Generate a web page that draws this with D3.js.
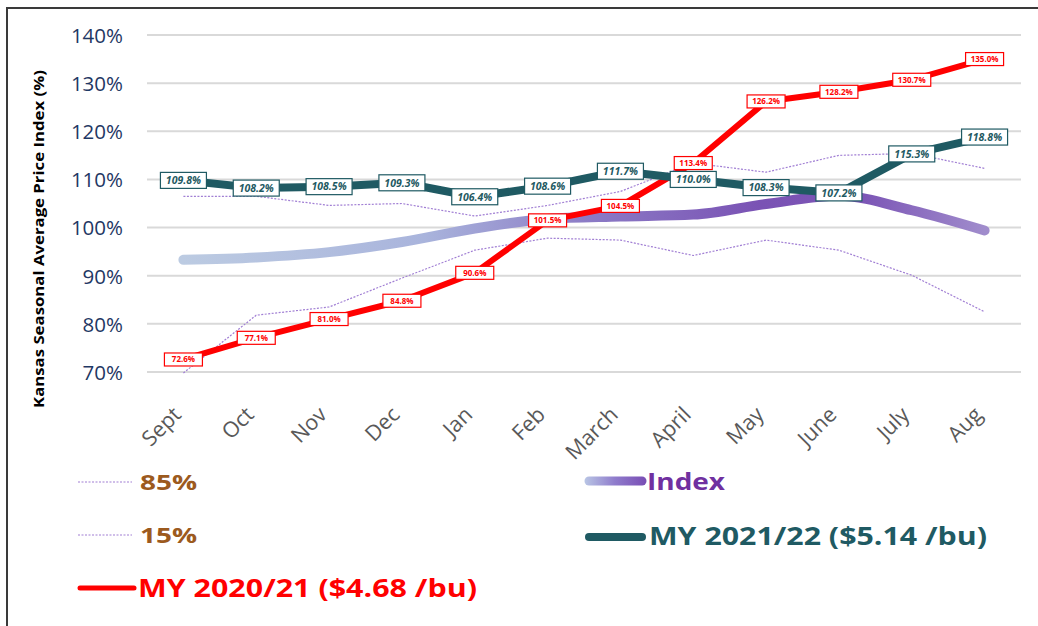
<!DOCTYPE html>
<html><head><meta charset="utf-8">
<script src="https://cdn.jsdelivr.net/npm/d3@7"></script>
<style>body{margin:0;background:#fff}svg{display:block}</style>
</head><body>
<svg id="chart" width="1038" height="626"></svg>
<script>
const months = ["Sept","Oct","Nov","Dec","Jan","Feb","March","April","May","June","July","Aug"];
const yTicks = [70,80,90,100,110,120,130,140];
const p85 = [106.5,106.5,104.6,105.0,102.4,104.6,107.5,113.4,111.5,115.0,115.4,112.3];
const p15 = [69.8,81.8,83.5,89.5,95.3,97.8,97.4,94.2,97.4,95.3,90.1,82.5];
const indexVals = [93.3,93.8,94.9,97.0,99.8,101.8,102.3,102.7,104.9,106.6,103.6,99.4];
const my2021 = [72.6,77.1,81.0,84.8,90.6,101.5,104.5,113.4,126.2,128.2,130.7,135.0];
const my2122 = [109.8,108.2,108.5,109.3,106.4,108.6,111.7,110.0,108.3,107.2,115.3,118.8];

const svg = d3.select("#chart");
const pLeft = 147, pRight = 1021, pTop = 35, pBottom = 372;
const x = d3.scaleBand().domain(months).range([pLeft, pRight]);
const cx = m => x(m) + x.bandwidth()/2;
const y = d3.scaleLinear().domain([70,140]).range([pBottom, pTop]);

// frame
svg.append("rect").attr("x",7).attr("y",8).attr("width",1040).attr("height",630)
  .attr("fill","none").attr("stroke","#3a3a3a").attr("stroke-width",2);

// gridlines
svg.append("g").selectAll("line").data(yTicks).join("line")
  .attr("x1",pLeft).attr("x2",pRight).attr("y1",d=>y(d)).attr("y2",d=>y(d))
  .attr("stroke","#d9d9d9").attr("stroke-width",2);

// y axis labels
const yAxis = d3.axisLeft(y).tickValues(yTicks).tickFormat(d=>d+"%").tickSize(0).tickPadding(0);
const ya = svg.append("g").attr("transform",`translate(123,0)`).call(yAxis);
ya.select(".domain").remove();
ya.selectAll("text").attr("font-family","'Open Sans', sans-serif").attr("font-size",20.5)
  .attr("fill","#1f3864").attr("dy","0.36em");

// x axis labels
const xAxis = d3.axisBottom(x).tickSize(0).tickPadding(0);
const xa = svg.append("g").attr("transform",`translate(0,${pBottom})`).call(xAxis);
xa.select(".domain").remove();
xa.selectAll("text")
  .attr("font-family","'Open Sans', sans-serif").attr("font-size",21.5).attr("fill","#595959")
  .attr("text-anchor","end").attr("dy",0).attr("y",0)
  .attr("transform","translate(-1,44) rotate(-45)");

// y title
svg.append("text").attr("transform","translate(44,239) rotate(-90)")
  .attr("text-anchor","middle").attr("font-family","'Open Sans', sans-serif")
  .attr("font-weight","bold").attr("font-size",14).attr("fill","#000")
  .attr("textLength",338).attr("lengthAdjust","spacingAndGlyphs")
  .text("Kansas Seasonal Average Price Index (%)");

// gradients
const defs = svg.append("defs");
const g1 = defs.append("linearGradient").attr("id","idxGrad").attr("gradientUnits","userSpaceOnUse")
  .attr("x1",cx("Sept")).attr("x2",cx("Aug")).attr("y1",0).attr("y2",0);
[[0,"#bccbe2"],[0.3,"#a9b4dc"],[0.5,"#8c7cc6"],[0.72,"#7a52b4"],[0.85,"#7c56b6"],[1,"#a08ccc"]]
  .forEach(([o,c])=>g1.append("stop").attr("offset",o).attr("stop-color",c));
const g2 = defs.append("linearGradient").attr("id","legGrad").attr("gradientUnits","userSpaceOnUse")
  .attr("x1",585).attr("x2",645).attr("y1",0).attr("y2",0);
[[0,"#b8c4e4"],[0.5,"#8f7ccc"],[1,"#7a4fb5"]]
  .forEach(([o,c])=>g2.append("stop").attr("offset",o).attr("stop-color",c));

const line = d3.line().x((d,i)=>cx(months[i])).y(d=>y(d));
const smooth = d3.line().x((d,i)=>cx(months[i])).y(d=>y(d)).curve(d3.curveMonotoneX);

svg.append("path").attr("d",line(p85)).attr("fill","none").attr("stroke","#a17fd4")
  .attr("stroke-width",1.2).attr("stroke-dasharray","2,1.5");
svg.append("path").attr("d",line(p15)).attr("fill","none").attr("stroke","#a17fd4")
  .attr("stroke-width",1.2).attr("stroke-dasharray","2,1.5");
svg.append("path").attr("d",smooth(indexVals)).attr("fill","none").attr("stroke","url(#idxGrad)")
  .attr("stroke-width",10).attr("stroke-linecap","round").attr("stroke-linejoin","round");
svg.append("path").attr("d",line(my2021)).attr("fill","none").attr("stroke","#ff0000")
  .attr("stroke-width",6).attr("stroke-linejoin","round");
svg.append("path").attr("d",line(my2122)).attr("fill","none").attr("stroke","#1f5a63")
  .attr("stroke-width",8).attr("stroke-linejoin","round");

// labels
function labels(vals, opts){
  const g = svg.append("g").selectAll("g").data(vals).join("g")
    .attr("transform",(d,i)=>`translate(${cx(months[i])},${y(d)})`);
  g.append("rect").attr("x",-opts.w/2).attr("y",-opts.h/2).attr("width",opts.w).attr("height",opts.h)
    .attr("fill","#fff").attr("stroke",opts.color).attr("stroke-width",1.2);
  g.append("text").attr("text-anchor","middle").attr("dy","0.36em")
    .attr("font-family","'Open Sans', sans-serif").attr("font-weight","bold")
    .attr("font-style",opts.italic?"italic":"normal").attr("font-size",opts.fs)
    .attr("fill",opts.color).text(d=>d.toFixed(1)+"%");
}
labels(my2021,{w:38,h:13,color:"#ff0000",fs:8,italic:false});
labels(my2122,{w:46,h:16,color:"#1f5a63",fs:10.5,italic:true});

// legend
const lf = "'Open Sans', sans-serif";
function legText(xp, yp, txt, color, len, fs){
  svg.append("text").attr("x",xp).attr("y",yp).attr("font-family",lf).attr("font-weight","bold")
    .attr("font-size",fs).attr("fill",color).attr("textLength",len).attr("lengthAdjust","spacingAndGlyphs").text(txt);
}
svg.append("line").attr("x1",78).attr("x2",132).attr("y1",482).attr("y2",482)
  .attr("stroke","#a17fd4").attr("stroke-width",1.2).attr("stroke-dasharray","2,1.5");
legText(140,490,"85%","#9c5a1e",57,22);
svg.append("line").attr("x1",78).attr("x2",132).attr("y1",535).attr("y2",535)
  .attr("stroke","#a17fd4").attr("stroke-width",1.2).attr("stroke-dasharray","2,1.5");
legText(140,543,"15%","#9c5a1e",57,22);
svg.append("line").attr("x1",80).attr("x2",134).attr("y1",588).attr("y2",588)
  .attr("stroke","#ff0000").attr("stroke-width",5).attr("stroke-linecap","round");
legText(138,597,"MY 2020/21 ($4.68 /bu)","#ff0000",339,24.5);
svg.append("line").attr("x1",589).attr("x2",642).attr("y1",481).attr("y2",481)
  .attr("stroke","url(#legGrad)").attr("stroke-width",9).attr("stroke-linecap","round");
legText(647,490,"Index","#7030a0",78,24);
svg.append("line").attr("x1",589).attr("x2",642).attr("y1",537).attr("y2",537)
  .attr("stroke","#1f5a63").attr("stroke-width",8).attr("stroke-linecap","round");
legText(649,545,"MY 2021/22 ($5.14 /bu)","#1f5a63",338,24.5);
</script>
</body></html>
